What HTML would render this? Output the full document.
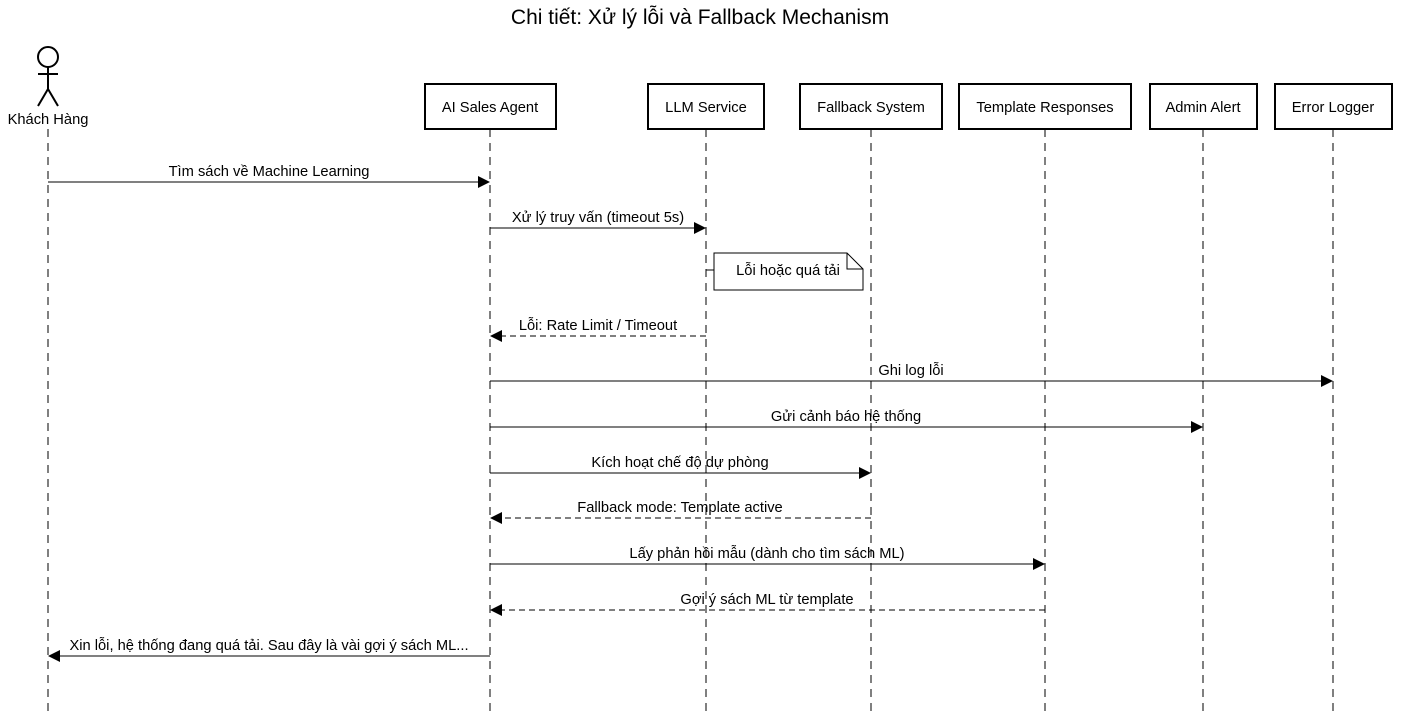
<!DOCTYPE html>
<html><head><meta charset="utf-8"><style>body{margin:0;background:#fff}svg{display:block}</style></head><body>
<svg width="1401" height="713" xmlns="http://www.w3.org/2000/svg" font-family="Liberation Sans, Arial, sans-serif" font-size="14.7">
<defs><marker id="a" markerWidth="12" markerHeight="12" refX="11" refY="6" orient="auto" markerUnits="userSpaceOnUse"><path d="M0,0 L12,6 L0,12 z" fill="#000"/></marker></defs>
<rect width="1401" height="713" fill="#fff"/>
<text x="700" y="24" text-anchor="middle" font-size="21">Chi tiết: Xử lý lỗi và Fallback Mechanism</text>
<g stroke="#000" stroke-width="1" stroke-dasharray="8 6">
<line x1="48" y1="129" x2="48" y2="713"/><line x1="490" y1="129" x2="490" y2="713"/><line x1="706" y1="129" x2="706" y2="713"/><line x1="871" y1="129" x2="871" y2="713"/><line x1="1045" y1="129" x2="1045" y2="713"/><line x1="1203" y1="129" x2="1203" y2="713"/><line x1="1333" y1="129" x2="1333" y2="713"/>
</g>
<g stroke="#000" stroke-width="2" fill="none">
<circle cx="48" cy="57" r="10"/><line x1="48" y1="67" x2="48" y2="89"/><line x1="38" y1="74" x2="58" y2="74"/><line x1="48" y1="89" x2="38" y2="106"/><line x1="48" y1="89" x2="58" y2="106"/>
</g>
<text x="48" y="124" text-anchor="middle">Khách Hàng</text>
<g fill="#fff" stroke="#000" stroke-width="2">
<rect x="425" y="84" width="131" height="45"/><rect x="648" y="84" width="116" height="45"/><rect x="800" y="84" width="142" height="45"/><rect x="959" y="84" width="172" height="45"/><rect x="1150" y="84" width="107" height="45"/><rect x="1275" y="84" width="117" height="45"/>
</g>
<g text-anchor="middle">
<text x="490" y="112">AI Sales Agent</text><text x="706" y="112">LLM Service</text><text x="871" y="112">Fallback System</text><text x="1045" y="112">Template Responses</text><text x="1203" y="112">Admin Alert</text><text x="1333" y="112">Error Logger</text>
</g>
<line x1="706" y1="270" x2="714" y2="270" stroke="#000"/>
<path d="M714,253 H847 L863,269 V290 H714 Z" fill="#fff" stroke="#000"/><path d="M847,253 V269 H863" fill="none" stroke="#000"/>
<text x="788" y="275" text-anchor="middle">Lỗi hoặc quá tải</text>
<g stroke="#000" stroke-width="1" marker-end="url(#a)">
<line x1="48" y1="182" x2="489" y2="182"/>
<line x1="490" y1="228" x2="705" y2="228"/>
<line x1="706" y1="336" x2="491" y2="336" stroke-dasharray="6 4"/>
<line x1="490" y1="381" x2="1332" y2="381"/>
<line x1="490" y1="427" x2="1202" y2="427"/>
<line x1="490" y1="473" x2="870" y2="473"/>
<line x1="871" y1="518" x2="491" y2="518" stroke-dasharray="6 4"/>
<line x1="490" y1="564" x2="1044" y2="564"/>
<line x1="1045" y1="610" x2="491" y2="610" stroke-dasharray="6 4"/>
<line x1="490" y1="656" x2="49" y2="656"/>
</g>
<g text-anchor="middle">
<text x="269" y="176">Tìm sách về Machine Learning</text>
<text x="598" y="222">Xử lý truy vấn (timeout 5s)</text>
<text x="598" y="330">Lỗi: Rate Limit / Timeout</text>
<text x="911" y="375">Ghi log lỗi</text>
<text x="846" y="421">Gửi cảnh báo hệ thống</text>
<text x="680" y="467">Kích hoạt chế độ dự phòng</text>
<text x="680" y="512">Fallback mode: Template active</text>
<text x="767" y="558">Lấy phản hồi mẫu (dành cho tìm sách ML)</text>
<text x="767" y="604">Gợi ý sách ML từ template</text>
<text x="269" y="650">Xin lỗi, hệ thống đang quá tải. Sau đây là vài gợi ý sách ML...</text>
</g>
</svg>
</body></html>
